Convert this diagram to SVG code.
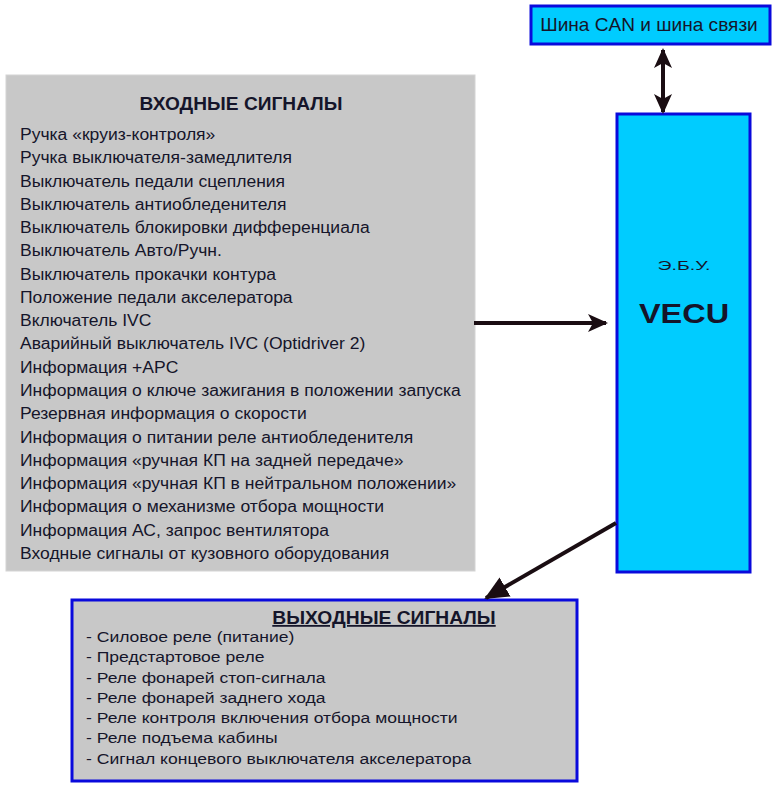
<svg xmlns="http://www.w3.org/2000/svg" width="776" height="789" viewBox="0 0 776 789">
<defs>
<marker id="ah" markerUnits="userSpaceOnUse" markerWidth="20" markerHeight="18" refX="18" refY="9" orient="auto-start-reverse" viewBox="0 0 20 18">
<path d="M0,0 L20,9 L0,18 L5,9 Z" fill="#1a0d12"/>
</marker>
<marker id="ah2" markerUnits="userSpaceOnUse" markerWidth="24" markerHeight="22" refX="22" refY="11" orient="auto-start-reverse" viewBox="0 0 24 22">
<path d="M0,0 L24,11 L0,22 Z" fill="#1a0d12"/>
</marker>
</defs>
<style>
.t{font-family:"Liberation Sans",Arial,sans-serif;fill:#15152a}
.it{font-size:16px}
.ot{font-size:15px}
.hd{font-size:18px;font-weight:bold}
.grey{fill:#c8c8c8}
.cyan{fill:#00ccff;stroke:#0a0adc;stroke-width:3}
.conn{stroke:#1a0d12;stroke-width:4;fill:none}
</style>
<rect width="776" height="789" fill="#ffffff"/>
<g id="can">
<rect class="cyan" x="531" y="6" width="239" height="38"/>
<text class="t" font-size="18" text-anchor="middle" transform="translate(649,31) scale(1.06,1)">Шина CAN и шина связи</text>
</g>
<g id="inputs">
<rect class="grey" x="6" y="75" width="469" height="496" stroke="#d4d4d4" stroke-width="1"/>
<text class="t hd" text-anchor="middle" transform="translate(241,110) scale(1.064,1)">ВХОДНЫЕ СИГНАЛЫ</text>
<g transform="translate(20,0) scale(1.095,1)">
<text class="t it" x="0" y="140">Ручка «круиз-контроля»</text>
<text class="t it" x="0" y="163.3">Ручка выключателя-замедлителя</text>
<text class="t it" x="0" y="186.6">Выключатель педали сцепления</text>
<text class="t it" x="0" y="209.8">Выключатель антиобледенителя</text>
<text class="t it" x="0" y="233.1">Выключатель блокировки дифференциала</text>
<text class="t it" x="0" y="256.4">Выключатель Авто/Ручн.</text>
<text class="t it" x="0" y="279.7">Выключатель прокачки контура</text>
<text class="t it" x="0" y="303">Положение педали акселератора</text>
<text class="t it" x="0" y="326.2">Включатель IVC</text>
<text class="t it" x="0" y="349.5">Аварийный выключатель IVC (Optidriver 2)</text>
<text class="t it" x="0" y="372.8">Информация +APC</text>
<text class="t it" x="0" y="396.1">Информация о ключе зажигания в положении запуска</text>
<text class="t it" x="0" y="419.4">Резервная информация о скорости</text>
<text class="t it" x="0" y="442.6">Информация о питании реле антиобледенителя</text>
<text class="t it" x="0" y="465.9">Информация «ручная КП на задней передаче»</text>
<text class="t it" x="0" y="489.2">Информация «ручная КП в нейтральном положении»</text>
<text class="t it" x="0" y="512.5">Информация о механизме отбора мощности</text>
<text class="t it" x="0" y="535.8">Информация АС, запрос вентилятора</text>
<text class="t it" x="0" y="559">Входные сигналы от кузовного оборудования</text>
</g>
</g>
<g id="vecu">
<rect class="cyan" x="617" y="114" width="133" height="458"/>
<text class="t" font-size="13" text-anchor="middle" transform="translate(684,270) scale(1.5,1)">Э.Б.У.</text>
<text class="t" font-size="28" font-weight="bold" text-anchor="middle" transform="translate(684,323) scale(1.16,1)">VECU</text>
</g>
<g id="outputs">
<rect class="grey" x="72" y="600" width="505" height="181" stroke="#0a0adc" stroke-width="3"/>
<text class="t hd" text-anchor="middle" text-decoration="underline" transform="translate(384,624) scale(1.07,1)">ВЫХОДНЫЕ СИГНАЛЫ</text>
<g transform="translate(86,0) scale(1.17,1)">
<text class="t ot" x="0" y="642">- Силовое реле (питание)</text>
<text class="t ot" x="0" y="662.3">- Предстартовое реле</text>
<text class="t ot" x="0" y="682.6">- Реле фонарей стоп-сигнала</text>
<text class="t ot" x="0" y="702.9">- Реле фонарей заднего хода</text>
<text class="t ot" x="0" y="723.2">- Реле контроля включения отбора мощности</text>
<text class="t ot" x="0" y="743.5">- Реле подъема кабины</text>
<text class="t ot" x="0" y="763.8">- Сигнал концевого выключателя акселератора</text>
</g>
</g>
<g id="connectors">
<line class="conn" x1="663" y1="50" x2="663" y2="112" marker-start="url(#ah)" marker-end="url(#ah)"/>
<line class="conn" x1="474" y1="323" x2="606" y2="323" marker-end="url(#ah)"/>
<line class="conn" x1="616" y1="523" x2="486" y2="598" marker-end="url(#ah2)"/>
</g>
</svg>
